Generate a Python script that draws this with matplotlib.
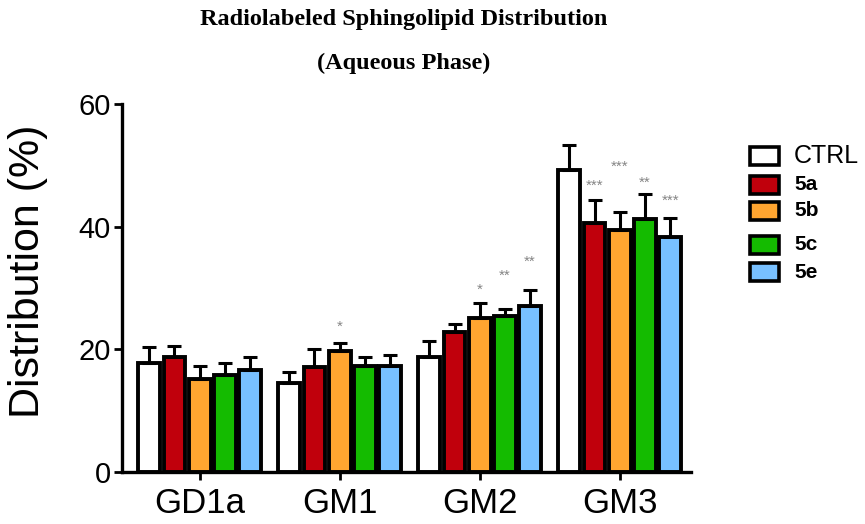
import numpy as np
import matplotlib.pyplot as plt
from matplotlib.patches import Rectangle

plt.rcParams['font.family'] = ['Liberation Sans', 'DejaVu Sans']

groups = ["GD1a", "GM1", "GM2", "GM3"]
series = ["CTRL", "5a", "5b", "5c", "5e"]
colors = ["#ffffff", "#c0000c", "#ffa530", "#14bb00", "#78c0ff"]

# mean values (%) per series, one entry per group
ctrl = [17.7, 14.5, 18.8, 49.2]
c5a = [18.8, 17.1, 22.9, 40.5]
c5b = [15.1, 19.7, 25.1, 39.5]
c5c = [15.8, 17.3, 25.5, 41.2]
c5e = [16.6, 17.3, 27.0, 38.3]

# upper error (SD)
ctrl_err = [2.6, 1.8, 2.5, 4.1]
c5a_err = [1.7, 2.9, 1.2, 3.8]
c5b_err = [2.2, 1.3, 2.4, 2.9]
c5c_err = [1.9, 1.4, 1.0, 4.1]
c5e_err = [2.1, 1.7, 2.6, 3.1]

# significance marks: (group, series, label, height)
stars = [
    (1, 2, "*", 23.6),
    (2, 2, "*", 29.7),
    (2, 3, "**", 32.0),
    (2, 4, "**", 34.2),
    (3, 1, "***", 46.6),
    (3, 2, "***", 49.7),
    (3, 3, "**", 47.1),
    (3, 4, "***", 44.2),
]

means = [ctrl, c5a, c5b, c5c, c5e]
errs = [ctrl_err, c5a_err, c5b_err, c5c_err, c5e_err]

W, H = 865, 524
fig = plt.figure(figsize=(W / 100, H / 100), dpi=100)
ax = fig.add_axes([0.141, 0.099, 0.658, 0.703])

x = np.arange(len(groups))
pitch = 0.18
width = 0.155
for i, (m, e) in enumerate(zip(means, errs)):
    pos = x + (i - 2) * pitch
    ax.bar(pos, m, width, color=colors[i], edgecolor="black", linewidth=2.8,
           yerr=[np.zeros(len(e)), e], error_kw=dict(ecolor="black", elinewidth=2.2,
                                                     capsize=5, capthick=2.2),
           zorder=2)

for g, s, lab, h in stars:
    ax.text(x[g] + (s - 2) * pitch, h, lab, ha="center", va="center",
            fontsize=11, color="#858585")

ax.set_xlim(-0.555, 3.51)
ax.set_ylim(0, 60)
ax.set_yticks([0, 20, 40, 60])
ax.set_xticks(x)
ax.set_xticklabels(groups)
ax.tick_params(axis="y", labelsize=21, width=2, length=6, pad=2)
ax.tick_params(axis="x", labelsize=25, width=2, length=6, pad=5)
for side in ["top", "right"]:
    ax.spines[side].set_visible(False)
for side in ["left", "bottom"]:
    ax.spines[side].set_linewidth(2.4)
ax.set_ylabel("Distribution (%)", fontsize=31)
ax.yaxis.set_label_coords(-0.13, 0.545)

fig.text(0.467, 1 - 19 / H, "Radiolabeled Sphingolipid Distribution", ha="center", va="center",
         fontsize=17.5, fontweight="bold", family="Liberation Serif")
fig.text(0.467, 1 - 63 / H, "(Aqueous Phase)", ha="center", va="center",
         fontsize=17.5, fontweight="bold", family="Liberation Serif")

# legend drawn by hand to keep the uneven row spacing of the original
row_y = [156, 185, 211, 245, 272]
for i, (lab, c) in enumerate(zip(series, colors)):
    fig.patches.append(Rectangle((750 / W, 1 - (row_y[i] + 9) / H), 29 / W, 18 / H,
                                 transform=fig.transFigure, facecolor=c,
                                 edgecolor="black", linewidth=2.6))
    if i == 0:
        fig.text(794 / W, 1 - row_y[i] / H, lab, ha="left", va="center", fontsize=18)
    else:
        fig.text(794 / W, 1 - row_y[i] / H, lab, ha="left", va="center", fontsize=15,
                 fontweight="bold")

fig.savefig("out.png", dpi=100)
